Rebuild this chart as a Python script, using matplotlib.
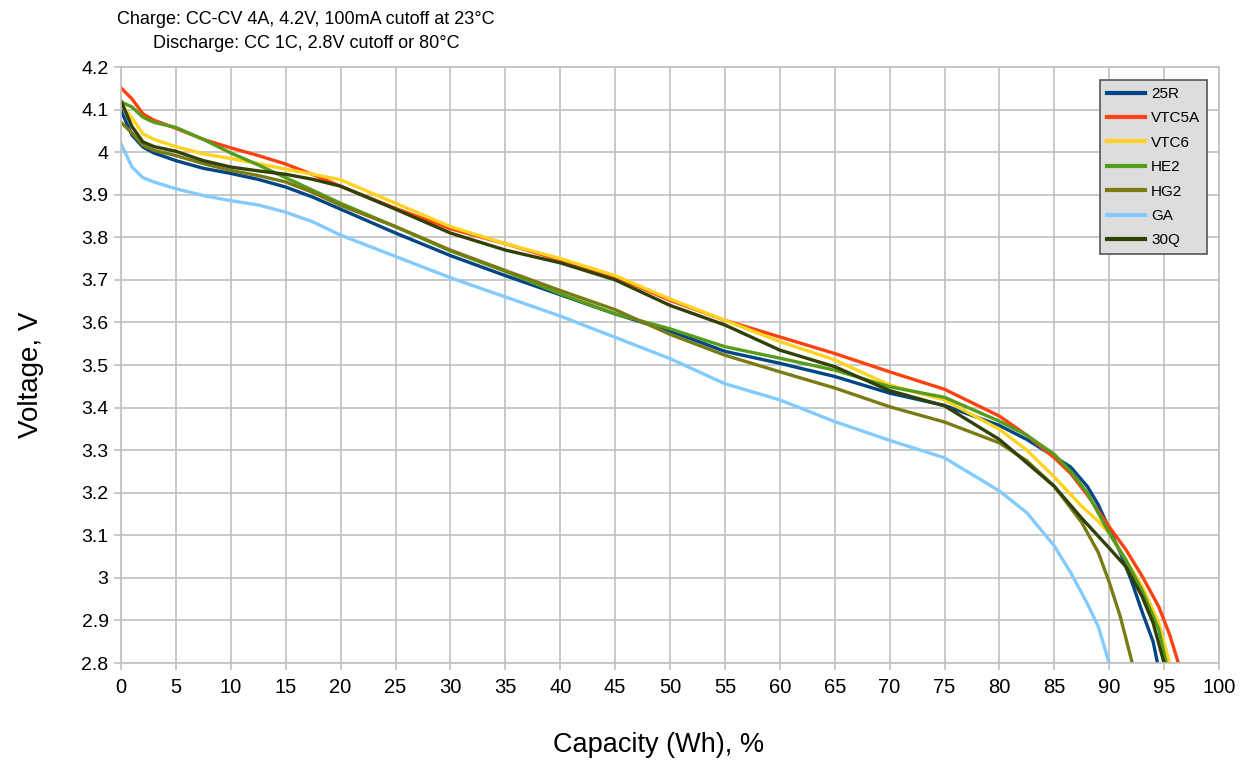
import numpy as np
import matplotlib
matplotlib.use('Agg')
import matplotlib.pyplot as plt

# capacity, % (shared part of the curves)
x_common = [0, 1, 2, 3, 5, 7.5, 10, 12.5, 15, 17.5, 20, 25, 30, 35, 40, 45, 50, 55, 60, 65, 70, 75, 80]

names = ['25R', 'VTC5A', 'VTC6', 'HE2', 'HG2', 'GA', '30Q']
colors = ['#004586', '#ff420e', '#ffd320', '#579d1c', '#7b7b14', '#83caff', '#314004']

v_25r = [4.098, 4.04, 4.012, 3.998, 3.98, 3.962, 3.95, 3.936, 3.918, 3.894, 3.866, 3.81, 3.757, 3.71,
         3.665, 3.62, 3.58, 3.532, 3.504, 3.473, 3.434, 3.405, 3.358]
tx_25r = [82.5, 85, 86.5, 88, 89, 90, 91, 92, 93, 94, 94.4]
tv_25r = [3.325, 3.285, 3.26, 3.215, 3.172, 3.115, 3.06, 2.995, 2.92, 2.85, 2.8]

v_vtc5a = [4.151, 4.125, 4.09, 4.075, 4.056, 4.03, 4.01, 3.992, 3.972, 3.947, 3.92, 3.868, 3.82, 3.785,
           3.746, 3.707, 3.652, 3.605, 3.566, 3.527, 3.484, 3.443, 3.38]
tx_vtc5a = [82.5, 85, 86.5, 88, 90, 91.5, 93, 94.5, 95.5, 96.3]
tv_vtc5a = [3.335, 3.282, 3.245, 3.195, 3.12, 3.067, 3.004, 2.933, 2.867, 2.8]

v_vtc6 = [4.114, 4.08, 4.043, 4.03, 4.013, 3.996, 3.985, 3.973, 3.96, 3.948, 3.935, 3.88, 3.825, 3.785,
          3.75, 3.71, 3.655, 3.605, 3.555, 3.512, 3.453, 3.418, 3.349]
tx_vtc6 = [82.5, 85, 87.5, 89, 90, 91.5, 93, 94.5, 95.5]
tv_vtc6 = [3.30, 3.237, 3.168, 3.133, 3.105, 3.043, 2.98, 2.895, 2.8]

v_he2 = [4.118, 4.106, 4.082, 4.07, 4.058, 4.03, 3.998, 3.97, 3.94, 3.91, 3.88, 3.825, 3.768, 3.72,
         3.667, 3.62, 3.585, 3.543, 3.516, 3.488, 3.449, 3.424, 3.368]
tx_he2 = [82.5, 85, 86.5, 88, 90, 91.5, 93, 94.5, 95.2]
tv_he2 = [3.335, 3.29, 3.25, 3.2, 3.105, 3.043, 2.97, 2.88, 2.8]

v_hg2 = [4.07, 4.045, 4.016, 4.004, 3.992, 3.973, 3.957, 3.945, 3.93, 3.905, 3.875, 3.825, 3.77, 3.722,
         3.675, 3.63, 3.572, 3.523, 3.484, 3.446, 3.402, 3.366, 3.317]
tx_hg2 = [82.5, 85, 87.5, 89, 90, 91, 92.1]
tv_hg2 = [3.275, 3.215, 3.13, 3.06, 2.99, 2.91, 2.8]

v_ga = [4.02, 3.965, 3.94, 3.93, 3.914, 3.898, 3.886, 3.876, 3.859, 3.836, 3.805, 3.755, 3.705, 3.66,
        3.615, 3.565, 3.515, 3.456, 3.418, 3.367, 3.323, 3.282, 3.204]
tx_ga = [82.5, 85, 86.5, 88, 89, 90]
tv_ga = [3.153, 3.075, 3.012, 2.94, 2.886, 2.8]

v_30q = [4.12, 4.06, 4.024, 4.013, 4.002, 3.98, 3.965, 3.956, 3.948, 3.936, 3.92, 3.866, 3.81, 3.77,
         3.74, 3.70, 3.64, 3.594, 3.535, 3.496, 3.44, 3.404, 3.325]
tx_30q = [82.5, 85, 87.5, 90, 91.5, 93, 94, 95]
tv_30q = [3.27, 3.215, 3.14, 3.07, 3.027, 2.956, 2.894, 2.8]

series = [(v_25r, tx_25r, tv_25r), (v_vtc5a, tx_vtc5a, tv_vtc5a), (v_vtc6, tx_vtc6, tv_vtc6),
          (v_he2, tx_he2, tv_he2), (v_hg2, tx_hg2, tv_hg2), (v_ga, tx_ga, tv_ga),
          (v_30q, tx_30q, tv_30q)]

plt.rcParams['font.family'] = ['Liberation Sans', 'DejaVu Sans']

fig = plt.figure(figsize=(12.6, 7.61), dpi=100)
ax = fig.add_axes([121 / 1260, 1 - 663 / 761, 1098 / 1260, 596 / 761])

for (v, tx, tv), name, c in zip(series, names, colors):
    ax.plot(x_common + tx, v + tv, color=c, lw=2.4, label=name, solid_joinstyle='round')

ax.set_xlim(0, 100)
ax.set_ylim(2.8, 4.2)
ax.set_xticks(np.arange(0, 101, 5))
ax.set_yticks(np.arange(2.8, 4.21, 0.1))
ax.set_yticklabels(['2.8', '2.9', '3', '3.1', '3.2', '3.3', '3.4', '3.5', '3.6', '3.7',
                    '3.8', '3.9', '4', '4.1', '4.2'])
ax.grid(True, color='#c0c0c0', lw=1.2)
ax.set_axisbelow(True)
for s in ax.spines.values():
    s.set_color('#c0c0c0')
    s.set_linewidth(1.2)
ax.tick_params(direction='out', length=5, color='#c0c0c0', width=1.2, labelcolor='black')
ax.tick_params(axis='y', labelsize=14, pad=4)
ax.tick_params(axis='x', labelsize=14.5, pad=6)

ax.set_xlabel('Capacity (Wh), %', fontsize=19.5, va='center')
ax.xaxis.set_label_coords((659 - 121) / 1098, -(745 - 663) / 596)
ax.set_ylabel('Voltage, V', fontsize=20, va='center')
ax.yaxis.set_label_coords(-(121 - 31) / 1098, (663 - 375) / 596)

fig.text(306 / 1260, 1 - 19 / 761, 'Charge: CC-CV 4A, 4.2V, 100mA cutoff at 23°C',
         ha='center', va='center', fontsize=13)
fig.text(306 / 1260, 1 - 43 / 761, 'Discharge: CC 1C, 2.8V cutoff or 80°C',
         ha='center', va='center', fontsize=13)

leg = ax.legend(loc='upper left', bbox_to_anchor=(0.8916, 0.978), fontsize=11,
                fancybox=False, framealpha=1, facecolor='#dddddd', edgecolor='#555555',
                handlelength=2.5, labelspacing=0.68, borderpad=0.45, handletextpad=0.4,
                borderaxespad=0)
leg.get_frame().set_linewidth(1.2)
for l in leg.get_lines():
    l.set_linewidth(3)

fig.savefig('out.png', dpi=100)
